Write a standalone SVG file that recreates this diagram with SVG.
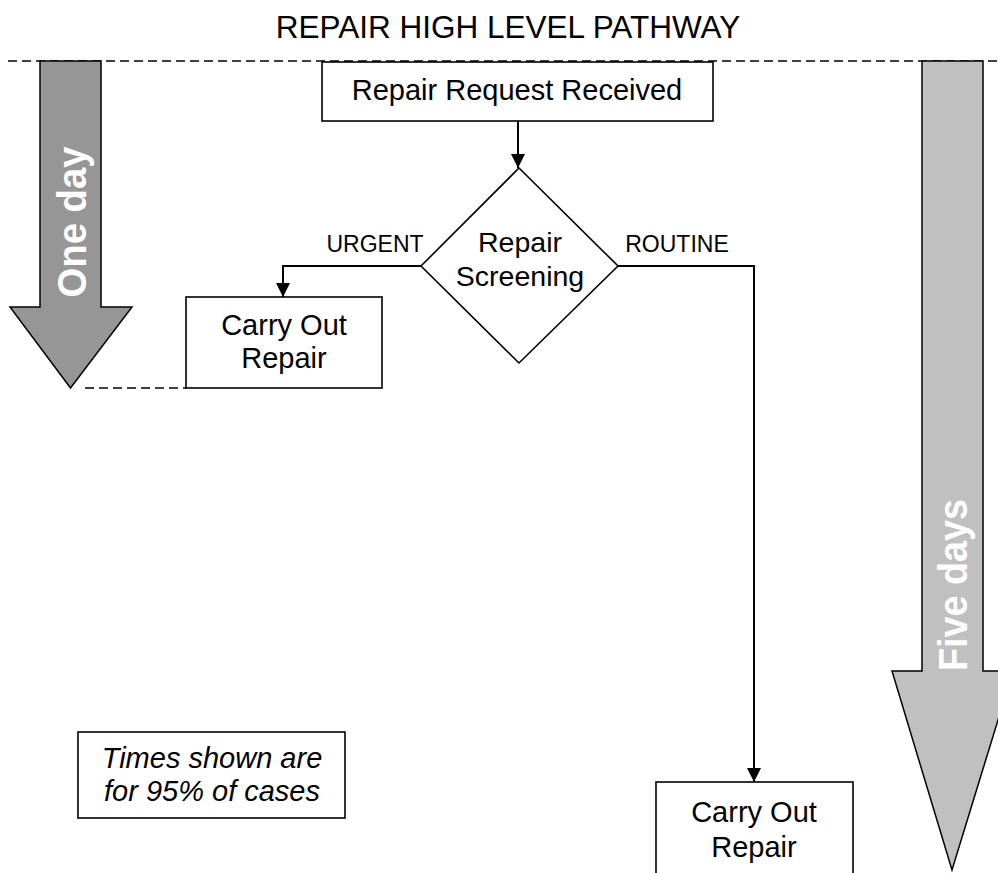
<svg xmlns="http://www.w3.org/2000/svg" width="998" height="873" viewBox="0 0 998 873">
<defs>
<marker id="ah" viewBox="0 0 14 14" refX="14" refY="7" markerWidth="14" markerHeight="14" markerUnits="userSpaceOnUse" orient="auto">
<path d="M0,0 L14,7 L0,14 Z" fill="#000"/>
</marker>
<style>
.t{font-family:"Liberation Sans",Arial,sans-serif;fill:#000;text-anchor:middle}
.box{fill:#fff;stroke:#000;stroke-width:1.6}
.con{fill:none;stroke:#000;stroke-width:2}
.dash{fill:none;stroke:#000;stroke-width:1.4;stroke-dasharray:9 5}
.big{font-family:"Liberation Sans",Arial,sans-serif;font-weight:bold;fill:#fff;text-anchor:middle}
</style>
</defs>
<rect width="998" height="873" fill="#fff"/>
<text class="t" x="508" y="38" font-size="31.5">REPAIR HIGH LEVEL PATHWAY</text>
<g id="guides">
<line class="dash" x1="8" y1="61" x2="998" y2="61"/>
<line class="dash" x1="85" y1="388" x2="186" y2="388"/>
</g>
<g id="one-day">
<path d="M40,61 L101,61 L101,307 L132,307 L70.5,388 L10,307 L40,307 Z" fill="#969696" stroke="#000" stroke-width="1.5"/>
<text class="big" transform="translate(86,222) rotate(-90)" font-size="41" textLength="151" lengthAdjust="spacingAndGlyphs">One day</text>
</g>
<g id="five-days">
<path d="M922,61 L983,61 L983,671 L1013,671 L952,870 L892,671 L922,671 Z" fill="#c0c0c0" stroke="#000" stroke-width="1.5"/>
<text class="big" transform="translate(967,585) rotate(-90)" font-size="40" fill="#f4f4f4" textLength="172" lengthAdjust="spacingAndGlyphs">Five days</text>
</g>
<g id="connectors">
<line class="con" x1="518" y1="121" x2="518" y2="168" marker-end="url(#ah)"/>
<polyline class="con" points="421,266 283,266 283,297" marker-end="url(#ah)"/>
<polyline class="con" points="618,266 754,266 754,782" marker-end="url(#ah)"/>
<text class="t" x="375" y="252" font-size="23">URGENT</text>
<text class="t" x="677" y="252" font-size="23">ROUTINE</text>
</g>
<g id="request">
<rect class="box" x="322" y="62" width="391" height="59"/>
<text class="t" x="517" y="100" font-size="29">Repair Request Received</text>
</g>
<g id="screening">
<polygon class="box" points="519,168 618,266 519,363 421,266"/>
<text class="t" x="520" y="252" font-size="28.5">Repair</text>
<text class="t" x="520" y="286" font-size="28.5">Screening</text>
</g>
<g id="urgent-repair">
<rect class="box" x="186" y="297" width="196" height="91"/>
<text class="t" x="284" y="335" font-size="29">Carry Out</text>
<text class="t" x="284" y="368" font-size="29">Repair</text>
</g>
<g id="routine-repair">
<rect class="box" x="656" y="782" width="197" height="100"/>
<text class="t" x="754" y="822" font-size="29">Carry Out</text>
<text class="t" x="754" y="857" font-size="29">Repair</text>
</g>
<g id="note">
<rect class="box" x="78" y="732" width="267" height="86"/>
<text class="t" x="212" y="768" font-size="29" font-style="italic">Times shown are</text>
<text class="t" x="212" y="801" font-size="29" font-style="italic">for 95% of cases</text>
</g>
</svg>
